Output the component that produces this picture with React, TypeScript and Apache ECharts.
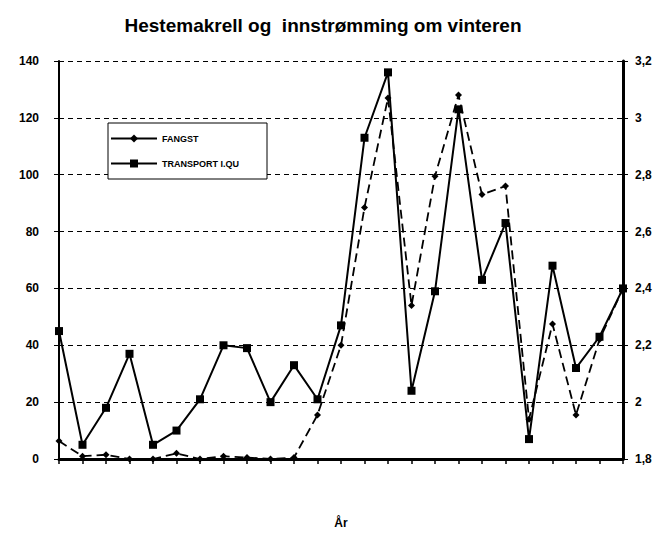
import React, { useEffect, useRef } from "react";
import * as echarts from "echarts";

const categories = ["1","2","3","4","5","6","7","8","9","10","11","12","13","14","15","16","17","18","19","20","21","22","23","24","25"];
const fangst = [6.3, 1, 1.5, 0, 0, 2, 0, 1, 0.5, 0, 0.5, 15.5, 40, 88.5, 127, 54, 99.5, 128, 93, 96, 14, 47.5, 15.5, 42, 60];
const transport = [2.25, 1.85, 1.98, 2.17, 1.85, 1.9, 2.01, 2.2, 2.19, 2.0, 2.13, 2.01, 2.27, 2.93, 3.16, 2.04, 2.39, 3.03, 2.43, 2.63, 1.87, 2.48, 2.12, 2.23, 2.4];
const titleText = "Hestemakrell og  innstrømming om vinteren";
const seriesNames = ["FANGST", "TRANSPORT I.QU"];
const xAxisName = "År";

export default function App() {
  const ref = useRef<HTMLDivElement>(null);
  useEffect(() => {
    const chart = echarts.init(ref.current!, null, { renderer: "svg" });
    const font = "Liberation Sans, Arial, sans-serif";
    chart.setOption({
      animation: false,
      backgroundColor: "#fff",
      textStyle: { fontFamily: font, color: "#000" },
      title: {
        text: titleText,
        left: 318,
        textAlign: "center",
        top: 11,
        textStyle: { fontSize: 19, fontWeight: "bold", color: "#000", fontFamily: font },
      },
      legend: {
        orient: "vertical",
        left: 108,
        top: 123,
        backgroundColor: "#fff",
        borderColor: "#000",
        borderWidth: 1,
        borderRadius: 0,
        padding: [11, 28, 11, 2],
        itemGap: 16,
        itemWidth: 46,
        itemHeight: 10,
        textStyle: { fontSize: 9, fontWeight: "bold", color: "#000", fontFamily: font },
        data: [
          { name: seriesNames[0], lineStyle: { type: "solid", width: 2 } },
          { name: seriesNames[1] },
        ],
      },
      grid: { left: 59, right: 33, top: 61, bottom: 73, containLabel: false },
      xAxis: {
        type: "category",
        data: categories,
        boundaryGap: false,
        name: xAxisName,
        nameLocation: "middle",
        nameGap: 58,
        nameTextStyle: { fontSize: 12, fontWeight: "bold", color: "#000" },
        axisLine: { lineStyle: { color: "#000", width: 3 } },
        axisTick: { show: true, interval: 0, length: 5, lineStyle: { color: "#000", width: 1.5 } },
        axisLabel: { show: false },
        splitLine: { show: false },
      },
      yAxis: [
        {
          type: "value",
          min: 0,
          max: 140,
          interval: 20,
          axisLine: { show: true, lineStyle: { color: "#000", width: 2 } },
          axisTick: { show: true, length: 5, lineStyle: { color: "#000" } },
          axisLabel: { margin: 20, fontSize: 12, fontWeight: "bold", color: "#000" },
          splitLine: { show: true, lineStyle: { color: "#000", type: [5, 4], width: 1.2 } },
        },
        {
          type: "value",
          min: 1.8,
          max: 3.2,
          interval: 0.2,
          position: "right",
          axisLine: { show: true, lineStyle: { color: "#000", width: 3 } },
          axisTick: { show: true, length: 5, lineStyle: { color: "#000" } },
          axisLabel: {
            margin: 12,
            fontSize: 12,
            fontWeight: "bold",
            color: "#000",
            formatter: (v: number) => String(+v.toFixed(1)).replace(".", ","),
          },
          splitLine: { show: false },
        },
      ],
      series: [
        {
          name: seriesNames[0],
          type: "line",
          yAxisIndex: 0,
          data: fangst,
          symbol: "diamond",
          symbolSize: 7,
          itemStyle: { color: "#000" },
          lineStyle: { color: "#000", width: 1.8, type: [9, 5] },
        },
        {
          name: seriesNames[1],
          type: "line",
          yAxisIndex: 1,
          data: transport,
          symbol: "rect",
          symbolSize: 8,
          itemStyle: { color: "#000" },
          lineStyle: { color: "#000", width: 2 },
        },
      ],
    });
    return () => chart.dispose();
  }, []);
  return (
    <div
      ref={ref}
      style={{ position: "absolute", left: 0, top: 0, width: 656, height: 534 }}
    />
  );
}
